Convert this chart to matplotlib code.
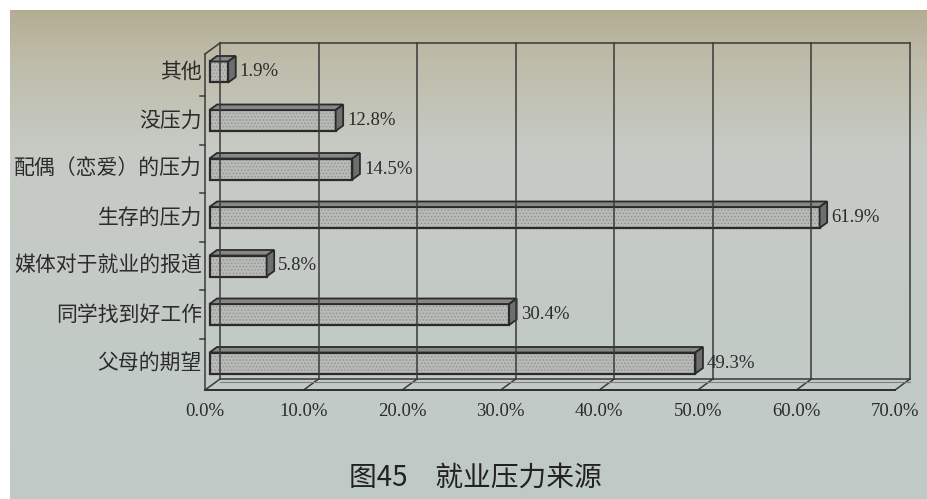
import numpy as np
import matplotlib.pyplot as plt
from matplotlib.patches import Polygon, Rectangle
from matplotlib.colors import LinearSegmentedColormap

plt.rcParams['font.family'] = ['Noto Sans CJK SC', 'DejaVu Sans']
plt.rcParams['hatch.linewidth'] = 0.6

categories = ['父母的期望', '同学找到好工作', '媒体对于就业的报道', '生存的压力',
              '配偶（恋爱）的压力', '没压力', '其他']
values = [49.3, 30.4, 5.8, 61.9, 14.5, 12.8, 1.9]
xticks = [0, 10, 20, 30, 40, 50, 60, 70]
tick_labels = ['%.1f%%' % t for t in xticks]
caption = '图45\u3000就业压力来源'

W, H = 927, 499
fig = plt.figure(figsize=(W / 100, H / 100), dpi=100)

# paper
bg = fig.add_axes([0, 0, 1, 1])
bg.set_xlim(0, W)
bg.set_ylim(H, 0)
bg.axis('off')
paper = LinearSegmentedColormap.from_list(
    'paper', [(0, '#b2aa8e'), (0.12, '#bebcaa'), (0.3, '#c7cbc4'), (1, '#bfcac8')])
grad = np.linspace(0, 1, 256).reshape(-1, 1)
bg.imshow(grad, cmap=paper, extent=(0, W, H, 0), aspect='auto')
bg.add_patch(Rectangle((0, 0), W, 10, color='white', lw=0))
bg.add_patch(Rectangle((0, 0), 10, H, color='white', lw=0))

# chart box, front plane
left, right, floor, top = 205, 895, 390, 54
row0, step = 363, 48.5
ax = fig.add_axes([left / W, 1 - floor / H, (right - left) / W, (floor - top) / H])
ax.patch.set_alpha(0)
ybot = -(floor - row0) / step
ytop = (row0 - top) / step
ax.set_xlim(0, 70)
ax.set_ylim(ybot, ytop)
ax.axis('off')

sx = 70 / (right - left)
sy = 1 / step
dxw, dyw = 15 * sx, 11 * sy
line = dict(color='#3a3a3a', lw=1.1, clip_on=False)
num_font = dict(fontsize=13.5, family=['Liberation Serif'], color='#2b2b2b')

# back wall, floor and left wall
for t in xticks:
    ax.plot([t + dxw, t + dxw], [ybot + dyw, ytop + dyw], **line)
    ax.plot([t, t + dxw], [ybot, ybot + dyw], **line)
ax.plot([dxw, 70 + dxw], [ytop + dyw, ytop + dyw], **line)
ax.plot([dxw, 70 + dxw], [ybot + dyw, ybot + dyw], **line)
ax.plot([dxw, 70 + dxw], [ybot + dyw - 3 * sy, ybot + dyw - 3 * sy],
        color='#7d807e', lw=0.8, clip_on=False)
ax.plot([0, 70], [ybot, ybot], color='#2e2e2e', lw=1.4, clip_on=False)
ax.plot([0, 0], [ybot, ytop], **line)
ax.plot([0, dxw], [ytop, ytop + dyw], **line)
for k in range(len(categories) - 1):
    ax.plot([-5 * sx, 0], [k + 0.5, k + 0.5], **line)

# 3d bars
h = 21 * sy
bx = 0.3 * dxw
ddx, ddy = 0.5 * dxw, 0.5 * dyw
for i, v in enumerate(values):
    y0, y1 = i - h / 2, i + h / 2
    ax.add_patch(Rectangle((bx, y0), v, h, facecolor='#b8bab7',
                           hatch='.....', edgecolor='#8f928f', lw=0, clip_on=False))
    ax.add_patch(Rectangle((bx, y0), v, h, fill=False, edgecolor='#2a2a2a',
                           lw=1.6, clip_on=False))
    ax.add_patch(Polygon([(bx, y1), (bx + v, y1), (bx + v + ddx, y1 + ddy),
                          (bx + ddx, y1 + ddy)], closed=True, facecolor='#858885',
                         edgecolor='#2a2a2a', lw=1.3, clip_on=False))
    ax.add_patch(Polygon([(bx + v, y0), (bx + v + ddx, y0 + ddy),
                          (bx + v + ddx, y1 + ddy), (bx + v, y1)], closed=True,
                         facecolor='#6c6f6d', edgecolor='#2a2a2a', lw=1.3, clip_on=False))
    ax.text(bx + v + ddx + 4 * sx, i, '%.1f%%' % v, ha='left', va='center', **num_font)
    ax.text(-3 * sx, i, categories[i], ha='right', va='center',
            fontsize=15, color='#2b2b2b')

for t, lab in zip(xticks, tick_labels):
    ax.text(t, ybot - 22 * sy, lab, ha='center', va='center', **num_font)

fig.text(475 / W, 1 - 478 / H, caption, ha='center', va='center',
         fontsize=20, color='#222222')

fig.savefig('out.png', dpi=100)
